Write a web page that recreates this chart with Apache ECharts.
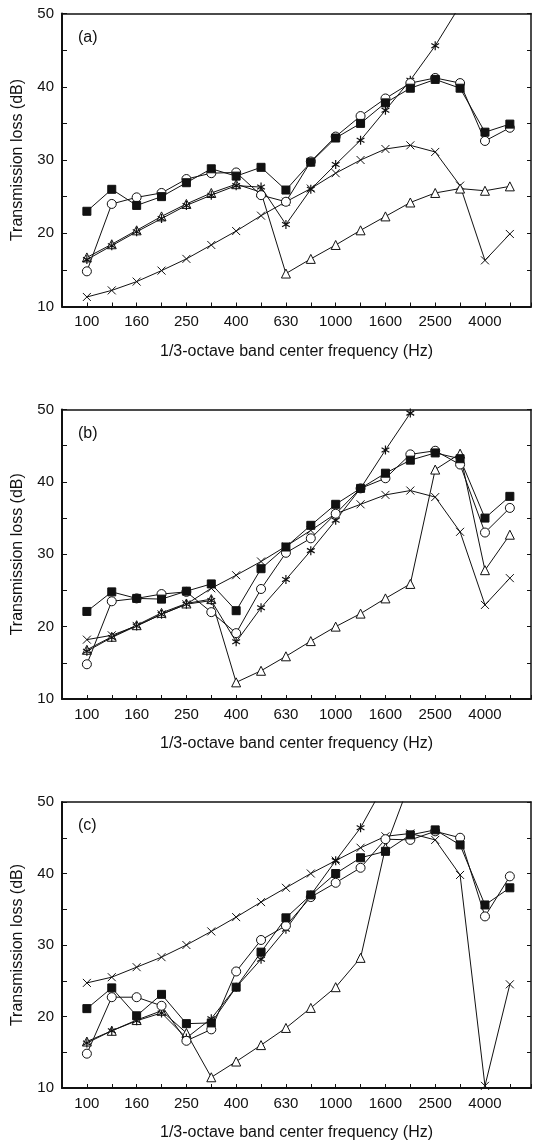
<!DOCTYPE html>
<html>
<head>
<meta charset="utf-8">
<script src="https://cdn.jsdelivr.net/npm/echarts@6/dist/echarts.min.js"></script>
<style>
  html, body { margin: 0; padding: 0; background: #fff; }
  #chart { width: 534px; height: 1142px; }
</style>
</head>
<body>
<div id="chart"></div>
<script>
// 1/3-octave band centres (Hz), every other one is labelled
var freqs = ['100','125','160','200','250','315','400','500','630','800','1000','1250','1600','2000','2500','3150','4000','5000'];
var yTicks = [10, 20, 30, 40, 50];

// panel (a)
var aSquare   = [23.0, 26.0, 23.8, 25.0, 26.9, 28.8, 27.8, 29.0, 25.9, 29.7, 33.0, 35.0, 37.8, 39.8, 41.0, 39.8, 33.8, 34.9];
var aCircle   = [14.8, 24.0, 24.9, 25.5, 27.4, 28.2, 28.3, 25.2, 24.3, 29.8, 33.2, 36.0, 38.4, 40.5, 41.2, 40.5, 32.6, 34.4];
var aStar     = [16.4, 18.3, 20.2, 22.0, 23.8, 25.2, 26.5, 26.3, 21.2, 26.0, 29.4, 32.7, 36.8, 40.9, 45.6, 51.1, null, null];
var aTriangle = [16.7, 18.5, 20.4, 22.3, 24.0, 25.5, 26.7, 25.6, 14.5, 16.5, 18.4, 20.4, 22.3, 24.2, 25.5, 26.1, 25.8, 26.4];
var aCross    = [11.3, 12.2, 13.4, 14.9, 16.5, 18.4, 20.3, 22.4, 24.3, 26.1, 28.2, 30.0, 31.5, 32.0, 31.1, 26.5, 16.3, 19.9];

// panel (b)
var bSquare   = [22.1, 24.8, 23.9, 23.8, 24.9, 25.9, 22.2, 28.0, 31.0, 34.0, 36.9, 39.1, 41.2, 43.0, 44.0, 43.2, 35.0, 38.0];
var bCircle   = [14.8, 23.5, 23.9, 24.5, 24.8, 22.0, 19.1, 25.2, 30.2, 32.2, 35.6, 39.1, 40.5, 43.8, 44.3, 42.4, 33.0, 36.4];
var bStar     = [16.6, 18.5, 20.1, 21.7, 23.1, 23.6, 17.9, 22.6, 26.5, 30.5, 34.7, 39.1, 44.4, 49.5, null, null, null, null];
var bTriangle = [16.8, 18.6, 20.2, 21.9, 23.2, 23.8, 12.3, 13.9, 15.9, 18.0, 20.0, 21.8, 23.9, 25.9, 41.7, 43.9, 27.8, 32.7];
var bCross    = [18.2, 18.8, 20.1, 21.7, 23.1, 25.3, 27.1, 29.0, 31.1, 33.3, 35.6, 36.9, 38.2, 38.8, 37.9, 33.1, 23.0, 26.7];

// panel (c)
var cSquare   = [21.1, 24.0, 20.1, 23.1, 19.0, 19.1, 24.1, 29.0, 33.8, 37.0, 40.0, 42.2, 43.1, 45.4, 46.1, 44.0, 35.6, 38.0];
var cCircle   = [14.8, 22.7, 22.7, 21.5, 16.6, 18.2, 26.3, 30.7, 32.7, 36.7, 38.7, 40.8, 44.8, 44.7, 45.9, 45.0, 34.0, 39.6];
var cStar     = [16.3, 18.0, 19.4, 20.5, 17.0, 19.7, 24.1, 28.0, 32.2, 37.0, 41.8, 46.4, 52.7, null, null, null, null, null];
var cTriangle = [16.5, 18.0, 19.5, 20.8, 17.7, 11.5, 13.7, 16.0, 18.4, 21.2, 24.1, 28.2, 43.6, 52.9, null, null, null, null];
var cCross    = [24.7, 25.5, 26.9, 28.3, 30.0, 31.9, 33.9, 36.0, 38.0, 40.0, 41.8, 43.6, 45.2, 45.6, 44.7, 39.8, 10.3, 24.5];

var INK = '#111';
var FONT = 'Liberation Sans';

// open markers are drawn as white-filled shapes with a thin black outline
var markers = {
  square:   { symbol: 'rect', size: 8, fill: INK, border: 1 },
  circle:   { symbol: 'circle', size: 9, fill: '#fff', border: 1 },
  star:     { symbol: 'path://M5,0L5,10M0.7,2.5L9.3,7.5M9.3,2.5L0.7,7.5', size: 9, fill: 'none', border: 1.2 },
  triangle: { symbol: 'triangle', size: 9, fill: '#fff', border: 1 },
  cross:    { symbol: 'path://M0,0L10,10M10,0L0,10', size: 8, fill: 'none', border: 1 }
};

var panels = [
  { tag: '(a)', top: 13.5, height: 293,   sets: { cross: aCross, triangle: aTriangle, star: aStar, circle: aCircle, square: aSquare } },
  { tag: '(b)', top: 409.5, height: 289.5, sets: { cross: bCross, triangle: bTriangle, star: bStar, circle: bCircle, square: bSquare } },
  { tag: '(c)', top: 802,  height: 287.5, sets: { cross: cCross, triangle: cTriangle, star: cStar, circle: cCircle, square: cSquare } }
];

function toPoints(vals) {
  return vals.map(function (v, i) { return [i, v]; }).filter(function (p) { return p[1] !== null; });
}

var grid = [], xAxis = [], yAxis = [], series = [], title = [];

panels.forEach(function (p, k) {
  grid.push({ left: 62, top: p.top, width: 470, height: p.height });

  title.push({
    text: p.tag, left: 73, top: p.top + 11,
    textStyle: { fontFamily: FONT, fontSize: 16, fontWeight: 'normal', color: INK }
  });

  // bottom axis with labels
  xAxis.push({
    type: 'value', gridIndex: k, position: 'bottom',
    min: -1, max: 17.85, interval: 1,
    name: '1/3-octave band center frequency (Hz)', nameLocation: 'middle', nameGap: 37,
    nameTextStyle: { fontFamily: FONT, fontSize: 16, color: INK },
    axisLine: { onZero: false, lineStyle: { color: INK, width: 2 } },
    axisTick: { inside: true, length: 4, lineStyle: { color: INK } },
    splitLine: { show: false },
    axisLabel: {
      margin: 8, fontFamily: FONT, fontSize: 15, color: INK,
      formatter: function (v) {
        if (Math.abs(v - Math.round(v)) > 1e-6) return '';
        var i = Math.round(v);
        return (i >= 0 && i % 2 === 0) ? freqs[i] : '';
      }
    }
  });
  // top frame
  xAxis.push({
    type: 'value', gridIndex: k, position: 'top', min: -1, max: 17.85,
    axisLine: { onZero: false, lineStyle: { color: INK, width: 1.5 } },
    axisTick: { show: false }, axisLabel: { show: false }, splitLine: { show: false }
  });

  yAxis.push({
    type: 'value', gridIndex: k, position: 'left',
    min: yTicks[0], max: yTicks[yTicks.length - 1], interval: 10,
    name: 'Transmission loss (dB)', nameLocation: 'middle', nameGap: 36,
    nameTextStyle: { fontFamily: FONT, fontSize: 16, color: INK },
    axisLine: { show: true, onZero: false, lineStyle: { color: INK, width: 2 } },
    axisTick: { inside: true, length: 5, lineStyle: { color: INK } },
    minorTick: { show: true, splitNumber: 2, length: 5, lineStyle: { color: INK } },
    splitLine: { show: false },
    axisLabel: { margin: 8, fontFamily: FONT, fontSize: 15, color: INK }
  });
  // right frame
  yAxis.push({
    type: 'value', gridIndex: k, position: 'right',
    min: 10, max: 50, interval: 10,
    axisLine: { show: true, onZero: false, lineStyle: { color: INK, width: 1.5 } },
    axisTick: { inside: true, length: 4, lineStyle: { color: INK } },
    minorTick: { show: true, splitNumber: 2, length: 4, lineStyle: { color: INK } },
    axisLabel: { show: false }, splitLine: { show: false }
  });

  Object.keys(p.sets).forEach(function (key) {
    var m = markers[key];
    series.push({
      type: 'line',
      xAxisIndex: k * 2, yAxisIndex: k * 2,
      data: toPoints(p.sets[key]),
      clip: true,
      symbol: m.symbol, symbolSize: m.size, symbolKeepAspect: true, showSymbol: true,
      lineStyle: { color: INK, width: 1 },
      itemStyle: { color: m.fill, borderColor: INK, borderWidth: m.border },
      emphasis: { disabled: true },
      z: 2
    });
  });
});

var myChart = echarts.init(document.getElementById('chart'));
myChart.setOption({
  animation: false,
  backgroundColor: '#fff',
  title: title,
  grid: grid,
  xAxis: xAxis,
  yAxis: yAxis,
  series: series
});
</script>
</body>
</html>
